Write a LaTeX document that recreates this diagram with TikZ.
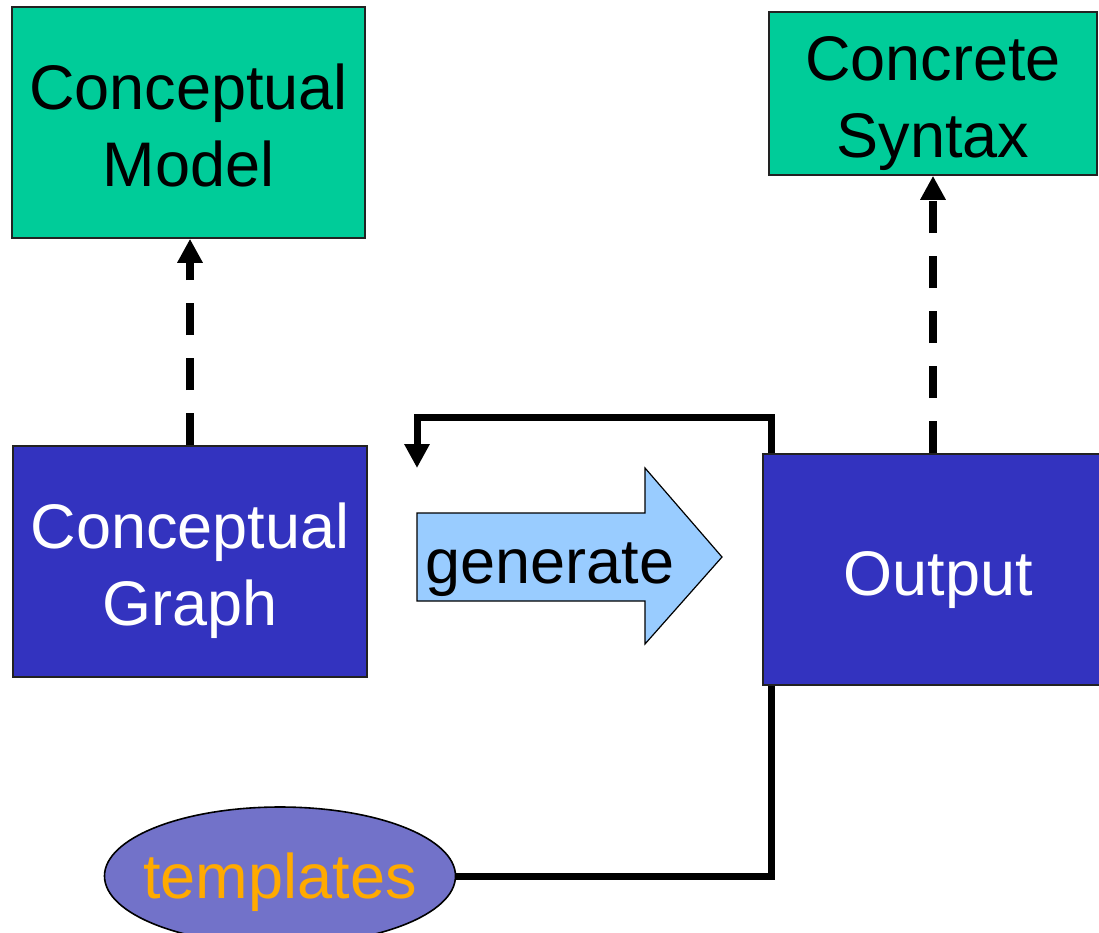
\documentclass[tikz,border=0pt]{standalone}
\usepackage{fontspec}
\setmainfont{Liberation Sans}
\usetikzlibrary{arrows.meta,shapes.geometric}
\definecolor{modelgreen}{HTML}{00CC99}
\definecolor{graphblue}{HTML}{3333BF}
\definecolor{genblue}{HTML}{99CCFF}
\definecolor{tplfill}{HTML}{7272C9}
\definecolor{tplorange}{HTML}{FFAA00}
\definecolor{edge}{HTML}{222222}
\tikzset{
  big/.style={font=\fontsize{63}{77}\selectfont},
  greenbox/.style={draw=edge, line width=1.6pt, fill=modelgreen, inner sep=0pt},
  bluebox/.style={draw=edge, line width=1.6pt, fill=graphblue, inner sep=0pt},
  darklabel/.style={big, text=black, align=center, inner sep=0pt},
  lightlabel/.style={big, text=white, align=center, inner sep=0pt},
  tipmark/.style={-{Triangle[width=24pt,length=24pt]}},
  dashlink/.style={line width=8pt, tipmark, dash pattern=on 32pt off 23pt},
  solidlink/.style={line width=7pt, line join=miter},
}
\begin{document}
\begin{tikzpicture}[x=1pt,y=-1pt]
\useasboundingbox (0,0) rectangle (1099,932);

% models on top
\node[greenbox, minimum width=353pt, minimum height=231pt] (cm) at (188.5,122.5) {};
\node[darklabel] (cmtext) at ([yshift=-3pt]cm.center) {Conceptual\\Model};
\node[greenbox, minimum width=328pt, minimum height=163pt] (cs) at (933,93.5) {};
\node[darklabel] (cstext) at ([yshift=-10pt]cs.center) {Concrete\\Syntax};

% graph and output
\node[bluebox, minimum width=354pt, minimum height=231pt] (cg) at (190,561.5) {};
\node[lightlabel] (cgtext) at ([yshift=-9pt]cg.center) {Conceptual\\Graph};
\node[bluebox, minimum width=338pt, minimum height=231pt] (out) at (932,569.5) {};
\node[lightlabel] (outtext) at ([xshift=6pt,yshift=-11pt]out.center) {Output};

% generation arrow
\draw[draw=black, line width=1.2pt, fill=genblue, line join=miter]
  (417,513) -- (645,513) -- (645,468) -- (722,557) -- (645,644) -- (645,601) -- (417,601) -- cycle;
\node[big, anchor=base, inner sep=0pt] (gen) at (550,583) {generate};

% templates
\node[draw=black, line width=1.6pt, fill=tplfill, ellipse,
  minimum width=351pt, minimum height=138pt, inner sep=0pt] (tpl) at (280,876) {};
\node[big, anchor=base, text=tplorange, inner sep=0pt] (tpltext) at (280,898) {templates};

% routing points
\coordinate (bus) at (771,417);
\coordinate (fbtip) at (417,468);

% dashed conformance links
\draw[dashlink] (cg.north) -- (cg.north |- cm.south);
\draw[dashlink] (out.north -| cs.south) -- (cs.south);

% feedback loop
\draw[solidlink, tipmark] (bus |- out.north) |- (fbtip |- bus) -- (fbtip);
\draw[solidlink] (tpl.east) -| (bus |- out.south);
\end{tikzpicture}
\end{document}
